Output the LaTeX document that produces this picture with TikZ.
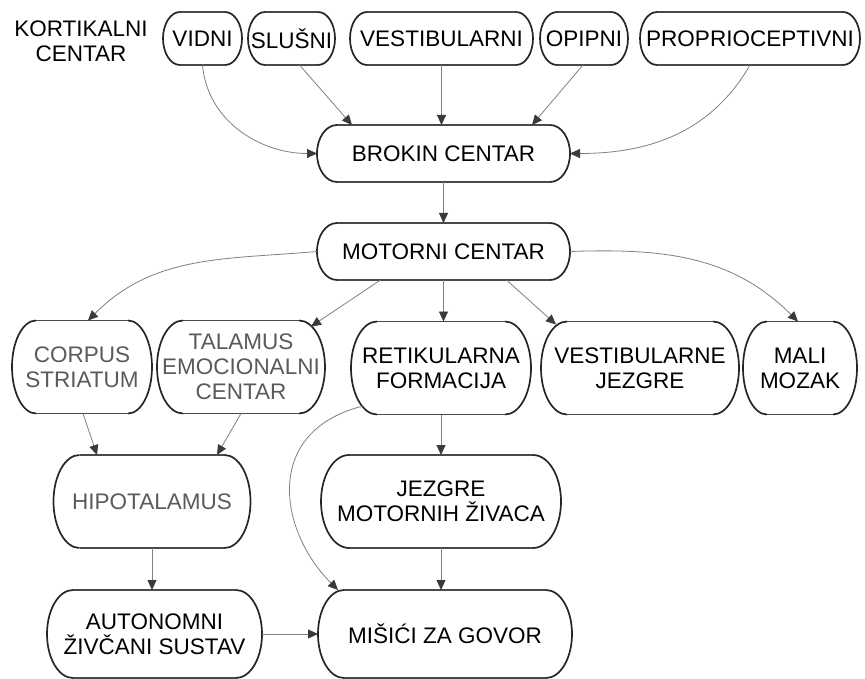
\documentclass[tikz,border=0pt]{standalone}
\usepackage{fontspec}
\setmainfont{Liberation Sans}
\usetikzlibrary{arrows.meta,calc}
\definecolor{linegray}{HTML}{808080}
\definecolor{tipgray}{HTML}{3A3A3A}
\definecolor{boxgray}{HTML}{4A4A4A}
\definecolor{txtgray}{HTML}{5A5A5A}
\tikzset{
  boxtext/.style={rectangle, draw=none, inner sep=0pt, outer sep=0pt, align=center,
    font=\fontsize{22.5}{25}\selectfont, text=black},
  graytext/.style={text=txtgray},
  boxedge/.style={draw=boxgray, line width=1.1pt},
  boxside/.style={draw=black!85, line width=1.7pt},
  conn/.style={draw=linegray, line width=0.8pt, -{Triangle[length=10pt,width=9pt,color=tipgray]}},
}
\newcommand\Capsule[8][]{%
  \node[boxtext,#1,minimum width=#5pt,minimum height=#6pt] (#2) at (#3,#4) {#8};
  \draw[boxedge] ([xshift=#7pt]#2.north west) -- ([xshift=-#7pt]#2.north east)
     ([xshift=-#7pt]#2.south east) -- ([xshift=#7pt]#2.south west);
  \draw[boxside] ([xshift=-#7pt]#2.north east) arc[start angle=90,end angle=-90,x radius=#7pt,y radius=#6pt/2];
  \draw[boxside] ([xshift=#7pt]#2.south west) arc[start angle=270,end angle=90,x radius=#7pt,y radius=#6pt/2];
}
\begin{document}
\begin{tikzpicture}[x=1pt,y=-1pt]
\fill[white] (0,0) rectangle (865,679);
\useasboundingbox (0,0) rectangle (865,679);

\node[boxtext] (kort) at (81,41) {KORTIKALNI\\CENTAR};

\Capsule{vidni}{202.5}{38.5}{79}{53}{17}{VIDNI}
\Capsule{slusni}{291.5}{38.5}{87}{53}{17}{SLUŠNI}
\Capsule{vestib}{441.5}{38.5}{183}{53}{17}{VESTIBULARNI}
\Capsule{opipni}{584}{38.5}{88}{53}{17}{OPIPNI}
\Capsule{proprio}{750}{38.5}{220}{53}{17}{PROPRIOCEPTIVNI}

\Capsule{brokin}{443.5}{153.5}{253}{57}{20}{BROKIN CENTAR}
\Capsule{motorni}{443.5}{251.5}{253}{57}{20}{MOTORNI CENTAR}

\Capsule[graytext]{corpus}{82}{367}{140}{93}{24}{CORPUS\\STRIATUM}
\Capsule[graytext]{talamus}{241}{367}{168}{93}{26}{TALAMUS\\EMOCIONALNI\\CENTAR}
\Capsule{retik}{441}{368}{180}{93}{26}{RETIKULARNA\\FORMACIJA}
\Capsule{vestibj}{640}{368}{198}{93}{26}{VESTIBULARNE\\JEZGRE}
\Capsule{mali}{800}{368}{114}{93}{24}{MALI\\MOZAK}

\Capsule[graytext]{hipo}{152}{501.5}{197}{93}{26}{HIPOTALAMUS}
\Capsule{jezgre}{441}{501.5}{240}{93}{28}{JEZGRE\\MOTORNIH ŽIVACA}

\Capsule{auto}{154.5}{634}{215}{88}{26}{AUTONOMNI\\ŽIVČANI SUSTAV}
\Capsule{misici}{445}{634}{254}{88}{26}{MIŠIĆI ZA GOVOR}

% to Brokin
\draw[conn] (vidni.south) to[out=-85,in=180] (brokin.west);
\draw[conn] ($(slusni.south)+(8,0)$) -- ($(brokin.north west)+(35,0)$);
\draw[conn] (vestib.south) -- (vestib.south |- brokin.north);
\draw[conn] ($(opipni.south)+(-1,0)$) -- ($(brokin.north east)+(-38,0)$);
\draw[conn] (proprio.south) to[out=-120,in=0] (brokin.east);
\draw[conn] (brokin.south) -- (motorni.north);

% from Motorni
\draw[conn] (motorni.west) to[out=185,in=45] ($(corpus.north)+(6,0)$);
\draw[conn] ($(motorni.south)+(-63,0)$) -- ($(talamus.north east)+(-14,6)$);
\draw[conn] (motorni.south) -- (motorni.south |- retik.north);
\draw[conn] ($(motorni.south)+(63,0)$) -- ($(vestibj.north west)+(15,3)$);
\draw[conn] (motorni.east) to[out=2,in=135] ($(mali.north)+(-2,0)$);

% lower
\draw[conn] ($(corpus.south)+(1,0)$) -- ($(hipo.north)+(-55,0)$);
\draw[conn] (talamus.south) -- ($(hipo.north)+(65,0)$);
\draw[conn] (retik.south) -- (jezgre.north);
\draw[conn] ($(retik.west)+(12,38)$) .. controls +(-100,25) and +(-60,-60) .. ($(misici.west)+(20,-44)$);
\draw[conn] (jezgre.south) -- (jezgre.south |- misici.north);
\draw[conn] (hipo.south) -- (hipo.south |- auto.north);
\draw[conn] (auto.east) -- (auto.east -| misici.west);
\end{tikzpicture}
\end{document}
